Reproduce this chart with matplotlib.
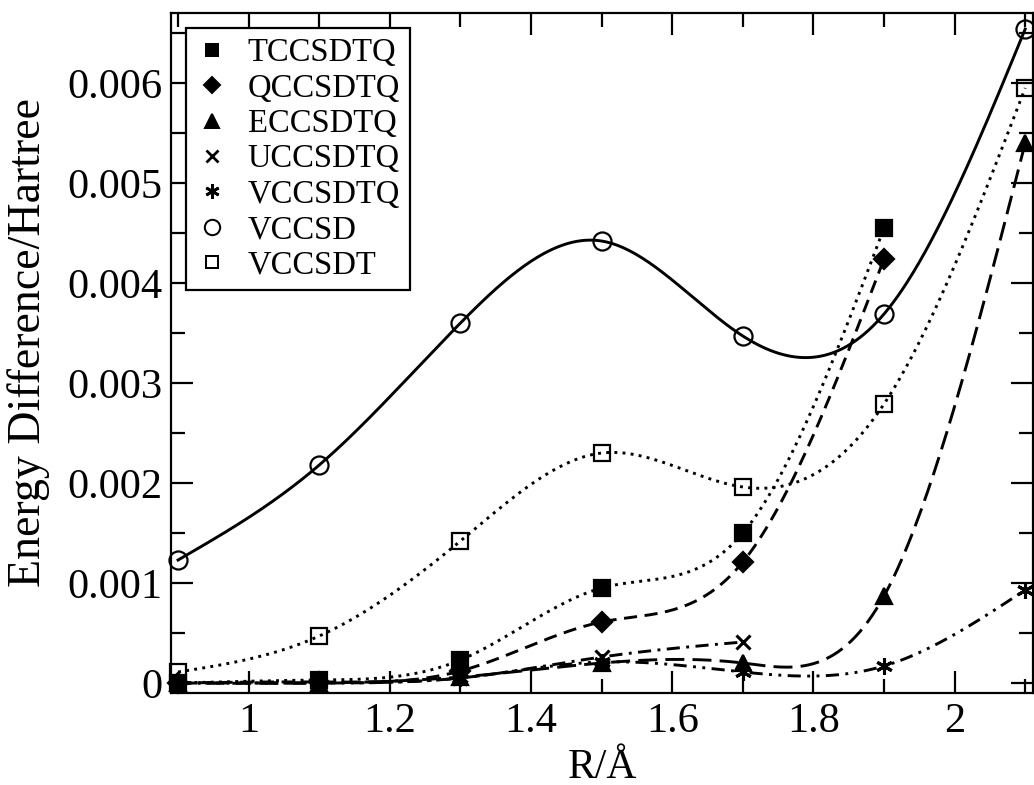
import numpy as np
import matplotlib
matplotlib.use("Agg")
import matplotlib.pyplot as plt
from matplotlib.lines import Line2D
from matplotlib.ticker import MultipleLocator, FuncFormatter

plt.rcParams["font.family"] = ["Liberation Serif", "DejaVu Serif"]

# ── data ──────────────────────────────────────────────
r_full = [0.9, 1.1, 1.3, 1.5, 1.7, 1.9, 2.1]
r_to19 = [0.9, 1.1, 1.3, 1.5, 1.7, 1.9]
r_to17 = [0.9, 1.1, 1.3, 1.5, 1.7]

tccsdtq = [0.0, 0.00003, 0.00023, 0.00095, 0.00150, 0.00455]
qccsdtq = [0.0, 0.00001, 0.00012, 0.00061, 0.00121, 0.00424]
eccsdtq = [0.0, 0.0, 0.00006, 0.00020, 0.00020, 0.00087, 0.00540]
uccsdtq = [0.0, 0.0, 0.00005, 0.00026, 0.00041]
vccsdtq = [0.0, 0.0, 0.00005, 0.00021, 0.00011, 0.00017, 0.00093]
vccsd   = [0.00123, 0.00218, 0.00360, 0.00442, 0.00347, 0.00369, 0.00654]
vccsdt  = [0.00011, 0.00047, 0.00142, 0.00230, 0.00196, 0.00279, 0.00595]


def natural_spline(x, y, n=400):
    """Natural cubic spline through (x, y), sampled on n points."""
    x = np.asarray(x, float)
    y = np.asarray(y, float)
    k = len(x)
    h = np.diff(x)
    A = np.zeros((k, k))
    b = np.zeros(k)
    A[0, 0] = A[-1, -1] = 1.0
    for i in range(1, k - 1):
        A[i, i - 1] = h[i - 1]
        A[i, i] = 2 * (h[i - 1] + h[i])
        A[i, i + 1] = h[i]
        b[i] = 3 * ((y[i + 1] - y[i]) / h[i] - (y[i] - y[i - 1]) / h[i - 1])
    c = np.linalg.solve(A, b)
    xs = np.linspace(x[0], x[-1], n)
    idx = np.clip(np.searchsorted(x, xs) - 1, 0, k - 2)
    dx = xs - x[idx]
    hi = h[idx]
    bb = (y[idx + 1] - y[idx]) / hi - hi * (2 * c[idx] + c[idx + 1]) / 3
    dd = (c[idx + 1] - c[idx]) / (3 * hi)
    ys = y[idx] + bb * dx + c[idx] * dx ** 2 + dd * dx ** 3
    return xs, ys


series = [
    # label, x, y, marker, size, filled, linestyle
    ("TCCSDTQ", r_to19, tccsdtq, "s", 11, True, (0, (1, 1.8))),
    ("QCCSDTQ", r_to19, qccsdtq, "D", 10, True, (0, (4.5, 2.6))),
    ("ECCSDTQ", r_full, eccsdtq, "^", 12, True, (0, (6.5, 2.8))),
    ("UCCSDTQ", r_to17, uccsdtq, "x", 10, True, (0, (4.5, 2.2, 1, 2.2))),
    ("VCCSDTQ", r_full, vccsdtq, (6, 2, 0), 12, True, (0, (4.5, 2.2, 1, 2.2, 1, 2.2))),
    ("VCCSD",   r_full, vccsd,   "o", 13, False, "-"),
    ("VCCSDT",  r_full, vccsdt,  "s", 11, False, (0, (1, 1.8))),
]

fig = plt.figure(figsize=(10.34, 7.85), dpi=100)
ax = fig.add_axes([0.1654, 0.1172, 0.8336, 0.8662])

handles = []
for label, xs, ys, mk, ms, filled, ls in series:
    sx, sy = natural_spline(xs, ys)
    ax.plot(sx, sy, color="black", lw=2.1, linestyle=ls, zorder=2)
    face = "black" if filled else "none"
    mew = 2.2 if mk in ("x", (6, 2, 0)) else 1.6
    ax.plot(xs, ys, ls="none", marker=mk, ms=ms, mfc=face, mec="black",
            mew=mew, zorder=3, clip_on=False)
    handles.append(Line2D([], [], ls="none", marker=mk, ms=ms * 0.85,
                          mfc=face, mec="black", mew=mew * 0.9, label=label))

ax.set_xlim(0.89, 2.111)
ax.set_ylim(-0.0001, 0.0067)

ax.xaxis.set_major_locator(MultipleLocator(0.2))
ax.xaxis.set_minor_locator(MultipleLocator(0.1))
ax.yaxis.set_major_locator(MultipleLocator(0.001))
ax.yaxis.set_minor_locator(MultipleLocator(0.0005))
ax.xaxis.set_major_formatter(FuncFormatter(lambda v, p: f"{v:g}"))
ax.yaxis.set_major_formatter(FuncFormatter(lambda v, p: f"{round(v, 4):g}"))

ax.tick_params(which="both", direction="in", top=True, right=True,
               width=1.6, labelsize=30.5, color="black")
ax.tick_params(which="major", length=16)
ax.tick_params(which="minor", length=10)
ax.tick_params(axis="x", which="major", pad=7)
ax.tick_params(axis="y", which="major", pad=6)
for spine in ax.spines.values():
    spine.set_linewidth(1.6)

ax.set_xlabel("R/Å", fontsize=30, labelpad=5)
ax.set_ylabel("Energy Difference/Hartree", fontsize=33)
ax.yaxis.set_label_coords(-0.14, 0.516)

leg = ax.legend(handles=handles, loc="upper left",
                bbox_to_anchor=(0.017, 0.978), borderaxespad=0,
                fontsize=23.5, frameon=True, fancybox=False,
                edgecolor="black", framealpha=1, handlelength=1.0,
                handletextpad=0.6, labelspacing=0.15, borderpad=0.3)
leg.get_frame().set_linewidth(1.6)

fig.savefig("out.png", dpi=100)
